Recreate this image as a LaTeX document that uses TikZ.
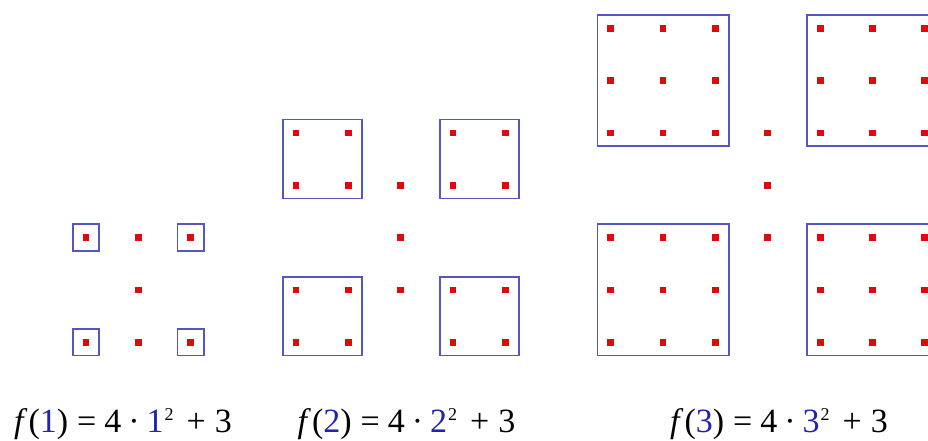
\documentclass[tikz,border=0pt]{standalone}
\usepackage{fontspec}
\setmainfont{Liberation Serif}
\definecolor{dotred}{RGB}{220,12,12}
\definecolor{boxblue}{RGB}{85,85,195}
\definecolor{numblue}{RGB}{35,35,175}
\newcommand\myeqn[1]{\textit{f}\hspace{1pt}(\textcolor{numblue}{#1})\hspace{9pt}=\hspace{8pt}4\hspace{7pt}·\hspace{7pt}\textcolor{numblue}{#1}\hspace{1pt}\raisebox{12pt}{\fontsize{18}{18}\selectfont 2}\hspace{13pt}+\hspace{9pt}3}
\begin{document}
\begin{tikzpicture}[x=1pt,y=-1pt,
  dotsty/.style={rectangle, fill=dotred, draw=none, inner sep=0pt, minimum size=6.8pt},
  boxsty/.style={draw=boxblue, line width=1.7pt},
  eqsty/.style={anchor=base, inner sep=0pt, font=\fontsize{34}{40}\selectfont}]
\useasboundingbox (0,0) rectangle (928,441);
\clip (0,0) rectangle (928,441);
\def\u{52.35}
\def\yb{342.3}
\foreach \xo/\n in {86/1, 296/2, 610.7/3} {
  \pgfmathtruncatemacro\m{\n-1}
  \pgfmathtruncatemacro\np{\n+1}
  \foreach \bc in {0,\np} {
    \foreach \br in {0,\np} {
      \draw[boxsty] ({\xo+\bc*\u-13.3},{\yb-\br*\u+13.3}) rectangle ({\xo+(\bc+\m)*\u+13.3},{\yb-(\br+\m)*\u-13.3});
      \foreach \i in {0,...,\m} {
        \foreach \j in {0,...,\m} {
          \node[dotsty] at ({\xo+(\bc+\i)*\u},{\yb-(\br+\j)*\u}) {};
        }
      }
    }
  }
  \foreach \j in {\m,\n,\np} {
    \node[dotsty] at ({\xo+\n*\u},{\yb-\j*\u}) {};
  }
}
\node[eqsty] (e1) at (123,432) {\myeqn{1}};
\node[eqsty] (e2) at (406.5,432) {\myeqn{2}};
\node[eqsty] (e3) at (779,432) {\myeqn{3}};
\end{tikzpicture}
\end{document}
